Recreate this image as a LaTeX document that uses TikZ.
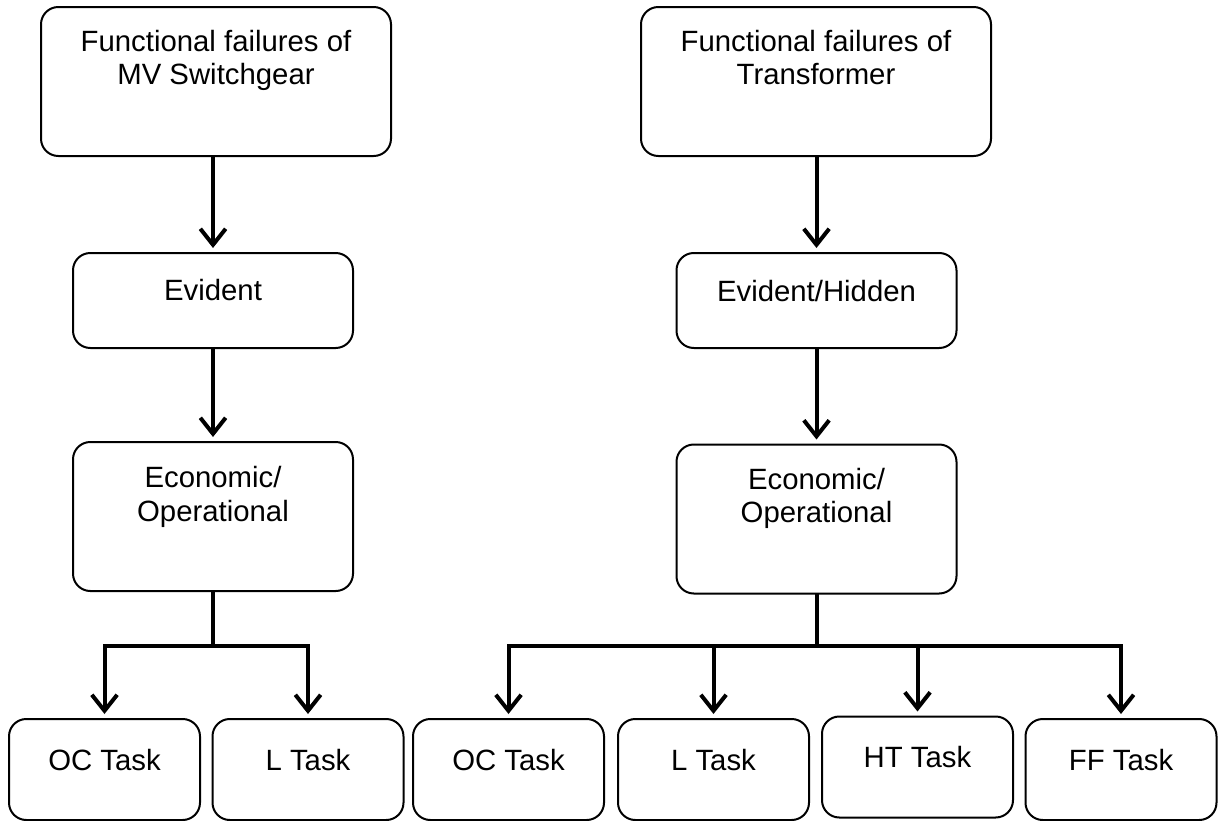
\documentclass[tikz,border=0pt]{standalone}
\usepackage{fontspec}
\setmainfont{Liberation Sans}
\usetikzlibrary{positioning,arrows.meta}
\tikzset{
    every node/.style={font=\fontsize{22}{25}\selectfont},
    box/.style={rounded corners=13pt,draw,line width=1.5pt,inner sep=0pt},
    topbox/.style={box,minimum width=262.5pt,minimum height=111.75pt},
    evbox/.style={box,minimum width=210pt,minimum height=71.25pt},
    ecbox/.style={box,minimum width=210pt,minimum height=111.75pt},
    taskbox/.style={box,minimum width=143.25pt,minimum height=75.75pt},
    boxtext/.style={inner sep=0pt,align=center},
    link/.style={line width=3pt,line cap=rect},
    arr/.style={line width=3pt,-{Straight Barb[length=12pt,width=19pt]},shorten >=3pt}
}
\begin{document}
\begin{tikzpicture}[x=0.75pt,y=-0.75pt]
\useasboundingbox (0,0) rectangle (1218,821);
% MV switchgear branch
\node[topbox] (ffA) at (216,81.5) {};
\node[boxtext,below=18pt of ffA.north] (ffAtxt) {Functional failures of\\MV Switchgear};
\node[evbox] (evA) at (213,300.5) {};
\node[boxtext,below=20pt of evA.north] (evAtxt) {Evident};
\node[ecbox] (ecA) at (213,516.5) {};
\node[boxtext,below=19pt of ecA.north] (ecAtxt) {Economic/\\Operational};
\foreach \n/\x/\t in {ocA/104.5/OC Task,lA/308/L Task}{
    \node[taskbox] (\n) at (\x,769.5) {};
    \node[boxtext,below=23pt of \n.north] (\n txt) {\t};
}
% transformer branch
\node[topbox] (ffB) at (816,81.5) {};
\node[boxtext,below=18pt of ffB.north] (ffBtxt) {Functional failures of\\Transformer};
\node[evbox] (evB) at (816.5,300.5) {};
\node[boxtext,below=21pt of evB.north] (evBtxt) {Evident/Hidden};
\node[ecbox] (ecB) at (816.5,519) {};
\node[boxtext,below=18pt of ecB.north] (ecBtxt) {Economic/\\Operational};
\foreach \n/\x/\y/\t in {ocB/508.5/769.5/OC Task,lB/713.5/769.5/L Task,htB/917.5/767/HT Task,fftB/1121/769.5/FF Task}{
    \node[taskbox] (\n) at (\x,\y) {};
    \node[boxtext,below=23pt of \n.north] (\n txt) {\t};
}
% connectors
\coordinate (busA) at (208,646);
\coordinate (busB) at (816,646);
\draw[arr] (evA.north |- ffA.south) -- (evA.north);
\draw[arr] (evA.south) -- (ecA.north);
\draw[link] (ecA.south) -- (ecA.south |- busA);
\draw[link] (ocA.north |- busA) -- (lA.north |- busA);
\foreach \n in {ocA,lA}
    \draw[arr] (\n.north |- busA) -- (\n.north);
\draw[arr] (evB.north |- ffB.south) -- (evB.north);
\draw[arr] (evB.south) -- (ecB.north);
\draw[link] (ecB.south) -- (ecB.south |- busB);
\draw[link] (ocB.north |- busB) -- (fftB.north |- busB);
\foreach \n in {ocB,lB,htB,fftB}
    \draw[arr] (\n.north |- busB) -- (\n.north);
\end{tikzpicture}
\end{document}
